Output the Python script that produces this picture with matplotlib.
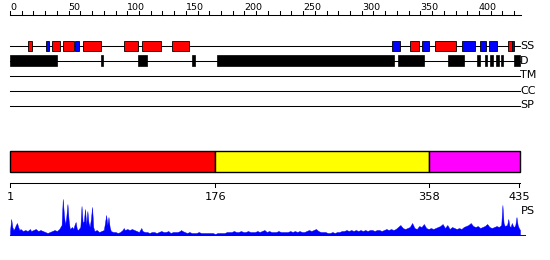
import matplotlib
matplotlib.use("Agg")
import matplotlib.pyplot as plt
from matplotlib.patches import Rectangle

# ---------------- data ----------------
seq_len = 435
ruler_labels = [0, 50, 100, 150, 200, 250, 300, 350, 400]
ruler_minor = list(range(0, 431, 10))

# secondary structure (start, end) in residue coordinates
ss_helix = [(15, 19), (36, 43), (45.5, 54.3), (62.5, 77.3), (97.5, 109.4),
            (112.8, 128.5), (138.5, 152.4), (341.5, 349.1), (362.8, 380.2),
            (425, 428)]
ss_strand = [(30.7, 33), (55.7, 58.6), (326, 333), (351.7, 357.1),
             (385.8, 396.4), (401.2, 405.7), (408.6, 415.1), (428, 430)]
disorder = [(0, 40), (77.6, 79), (109.5, 116.6), (155, 157.5), (176.8, 327.5),
            (331, 353), (374, 387), (398.3, 401), (404.9, 407), (409.4, 411.7),
            (414.2, 416.8), (418.5, 420.8), (430, 435)]
track_labels = ["SS", "D", "TM", "CC", "SP"]

domain_starts = [1, 176, 358]
domain_ends = [175, 357, 435]
domain_colors = ["#ff0000", "#ffff00", "#ff00ff"]
domain_ticks = [1, 176, 358, 435]

ps_pos = [0, 1, 2, 3, 4, 5, 6, 7, 8, 9, 11, 13, 15, 17, 18, 20, 22, 24, 26, 28,
          30, 32, 34, 36, 38, 40, 42, 44, 45, 46, 47, 48, 49, 50, 51, 53, 54, 55,
          56, 57, 58, 60, 61, 62, 63, 64, 65, 66, 67, 68, 69, 70, 71, 72, 74, 76,
          78, 80, 81, 82, 83, 84, 85, 86, 88, 90, 92, 94, 96, 97, 98, 100, 102,
          104, 106, 108, 110, 112, 113, 115, 117, 119, 121, 123, 125, 127, 129,
          131, 133, 135, 137, 139, 141, 143, 145, 146, 147, 149, 151, 153, 155,
          157, 159, 161, 163, 165, 167, 169, 171, 173, 175, 177, 179, 181, 183,
          185, 187, 189, 191, 193, 195, 197, 199, 201, 203, 205, 207, 209, 211,
          213, 215, 217, 219, 221, 223, 225, 227, 229, 231, 233, 235, 237, 239,
          241, 243, 245, 247, 249, 251, 253, 255, 257, 259, 261, 263, 265, 267,
          269, 271, 273, 275, 277, 279, 281, 283, 285, 287, 289, 291, 293, 295,
          297, 299, 301, 303, 305, 307, 309, 311, 313, 315, 317, 319, 321, 323,
          325, 327, 329, 331, 333, 335, 337, 339, 341, 343, 345, 347, 349, 351,
          353, 355, 357, 359, 361, 363, 365, 367, 369, 371, 373, 375, 377, 379,
          381, 383, 385, 387, 389, 391, 393, 395, 397, 399, 401, 403, 405, 407,
          409, 411, 413, 415, 417, 419, 420, 421, 422, 424, 425, 426, 427, 428,
          429, 430, 431, 432, 433, 434, 435]
ps_val = [4, 16, 8, 5, 7, 10, 12, 8, 5, 6, 4, 5, 4, 6, 4, 5, 6, 4, 5, 4,
          3, 2, 3, 4, 5, 4, 6, 10, 36, 20, 10, 18, 31, 15, 6, 8, 6, 10,
          13, 6, 5, 8, 29, 12, 14, 26, 10, 24, 12, 8, 16, 28, 8, 4, 5, 3,
          4, 5, 12, 20, 10, 18, 8, 4, 3, 3, 2, 3, 5, 7, 5, 6, 5,
          6, 5, 4, 3, 7, 4, 3, 3, 2, 3, 3, 2, 3, 4,
          3, 3, 4, 2, 3, 3, 3, 4, 5, 4, 3, 2, 3, 2,
          2, 2, 3, 2, 2, 2, 2, 2, 2, 1, 2, 2, 2, 2,
          3, 3, 3, 4, 3, 3, 4, 3, 3, 4, 3, 3, 3, 4,
          3, 4, 5, 3, 4, 3, 3, 3, 4, 3, 3, 3, 3, 4,
          3, 4, 3, 4, 3, 3, 4, 5, 4, 5, 6, 4, 3, 3,
          3, 2, 2, 3, 2, 3, 3, 4, 4, 5, 4, 5, 4, 5,
          4, 5, 4, 5, 4, 5, 5, 4, 5, 5, 4, 5, 6, 5,
          6, 5, 6, 8, 10, 7, 6, 7, 8, 12, 7, 6, 9, 8,
          11, 7, 6, 7, 6, 7, 8, 9, 11, 7, 10, 6, 8, 7,
          6, 7, 6, 8, 9, 10, 12, 9, 8, 9, 7, 8, 9, 11,
          8, 7, 8, 9, 8, 10, 30, 12, 9, 10, 16, 9, 8, 12,
          9, 8, 10, 18, 10, 7, 5]

# ---------------- layout ----------------
PX_W, PX_H = 550, 260
X0, X1 = 10.0, 520.0          # pixel span of the sequence
scale = (X1 - X0) / seq_len

fig = plt.figure(figsize=(PX_W / 100, PX_H / 100), dpi=100)
ax = fig.add_axes([0, 0, 1, 1])
ax.set_xlim(-X0 / scale, (PX_W - X0) / scale)
ax.set_ylim(PX_H, 0)
ax.axis("off")

LW = 0.75
FONT = "DejaVu Sans"

# top ruler
ruler_y = 15
ax.plot([0, seq_len + 1], [ruler_y, ruler_y], color="black", lw=LW)
for t in ruler_minor:
    ax.plot([t, t], [ruler_y, ruler_y - 3.8], color="black", lw=LW)
for t in ruler_labels:
    ax.text(t, 10.5, str(t), ha="left", va="baseline", fontsize=6.8,
            family=FONT, color="black")

# tracks
track_y = [46, 60.5, 75.5, 90.5, 105.5]
for lab, y in zip(track_labels, track_y):
    ax.plot([0, seq_len], [y, y], color="black", lw=LW, zorder=1)
    ax.text(seq_len + 0.3, y, lab, ha="left", va="center", fontsize=8,
            family=FONT, color="black")

ss_y, ss_h = track_y[0], 10
for s, e in ss_helix:
    ax.add_patch(Rectangle((s, ss_y - ss_h / 2), e - s, ss_h, facecolor="#ff0000",
                           edgecolor="black", lw=0.6, zorder=2))
for s, e in ss_strand:
    ax.add_patch(Rectangle((s, ss_y - ss_h / 2), e - s, ss_h, facecolor="#0000ff",
                           edgecolor="black", lw=0.6, zorder=2))

d_y, d_h = track_y[1], 11.5
for s, e in disorder:
    ax.add_patch(Rectangle((s, d_y - d_h / 2), e - s, d_h, facecolor="black",
                           edgecolor="black", lw=0.5, zorder=2))

# domain bar
bar_top, bar_bot = 150.5, 171.5
for s, e, c in zip(domain_starts, domain_ends, domain_colors):
    ax.add_patch(Rectangle((s - 1, bar_top), e - s + 1, bar_bot - bar_top,
                           facecolor=c, edgecolor="black", lw=1.0, zorder=2))

# bottom ruler
br_y = 182.5
ax.plot([0, seq_len], [br_y, br_y], color="black", lw=LW)
for t in domain_ticks:
    ax.plot([t - 1, t - 1], [br_y, br_y + 4.5], color="black", lw=LW)
    ax.text(t - 1, 200, str(t), ha="center", va="baseline", fontsize=8.2,
            family=FONT, color="black")

# PS profile
ps_base = 235
ax.fill_between(ps_pos, [ps_base] * len(ps_pos), [ps_base - v for v in ps_val],
                color="#0000ff", lw=0.3, edgecolor="#0000ff")
ax.plot([0, seq_len + 4], [ps_base, ps_base], color="#0000ff", lw=LW)
ax.text(seq_len + 0.8, 211, "PS", ha="left", va="center", fontsize=8.2,
        family=FONT, color="black")

fig.savefig("out.png", dpi=100)
